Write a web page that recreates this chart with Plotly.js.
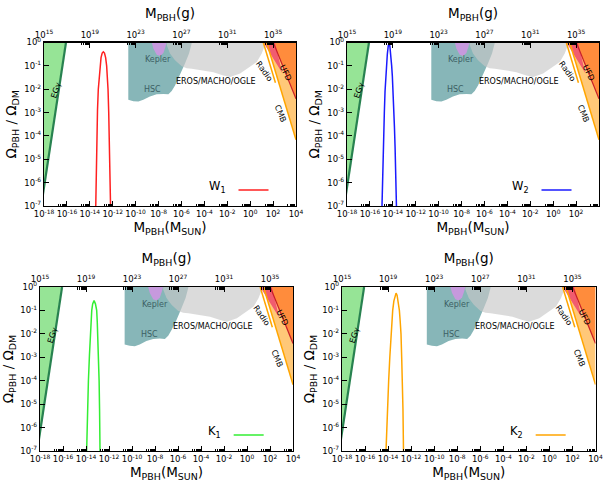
<!DOCTYPE html>
<html>
<head>
<meta charset="utf-8">
<script src="https://cdn.plot.ly/plotly-3.0.1.min.js"></script>
<style>html,body{margin:0;padding:0;background:#fff}</style>
</head>
<body>
<div id="chart" style="width:606px;height:483px"></div>
<script>
// ---------------- data ----------------
// curves: PBH mass [M_sun] and Omega_PBH/Omega_DM
const w1Mass = [3.16e-14,3.55e-14,3.98e-14,4.68e-14,5.50e-14,6.61e-14,7.76e-14,9.55e-14,1.20e-13,1.51e-13,1.91e-13,2.40e-13,2.95e-13,3.47e-13,3.89e-13,4.47e-13,5.01e-13,5.75e-13,6.76e-13];
const w1Omega = [3.16e-8,3.16e-6,1e-4,1.26e-3,0.01,0.0398,0.1,0.224,0.355,0.398,0.355,0.224,0.1,0.0355,0.01,1e-3,1e-4,3.16e-6,3.16e-8];

const w2Mass = [1.07e-15,1.26e-15,1.58e-15,1.82e-15,2.09e-15,2.40e-15,2.75e-15,3.31e-15,3.98e-15,4.68e-15,5.50e-15,6.61e-15,7.94e-15,9.12e-15,1.05e-14,1.20e-14,1.38e-14,1.58e-14,1.86e-14,2.19e-14];
const w2Omega = [3.16e-8,2.51e-6,1e-4,1e-3,7.94e-3,0.0316,0.1,0.316,0.708,0.933,0.708,0.316,0.1,0.0355,0.01,1.58e-3,2.51e-4,3.16e-5,1.58e-6,3.16e-8];

const k1Mass = [1.07e-14,1.20e-14,1.41e-14,1.62e-14,2.00e-14,2.40e-14,2.82e-14,3.16e-14,3.80e-14,5.01e-14,6.61e-14,8.51e-14,9.55e-14,1.05e-13,1.20e-13,1.38e-13,1.51e-13,1.70e-13];
const k1Omega = [3.16e-8,1e-6,1.26e-5,1e-4,1.26e-3,0.01,0.0398,0.1,0.191,0.263,0.191,0.1,0.0316,0.01,1e-3,1e-4,6.31e-6,3.16e-8];

const k2Mass = [6.03e-15,7.59e-15,9.12e-15,1.12e-14,1.41e-14,1.78e-14,2.19e-14,2.51e-14,3.16e-14,3.98e-14,4.90e-14,6.03e-14,7.59e-14,9.55e-14,1.12e-13,1.32e-13,1.51e-13,1.74e-13,1.95e-13,2.24e-13];
const k2Omega = [3.16e-8,1e-6,1e-5,1e-4,1e-3,0.01,0.0398,0.1,0.251,0.447,0.55,0.447,0.251,0.1,0.0355,0.01,1e-3,1e-4,6.31e-6,3.16e-8];

// constraint regions (polygons) and boundary lines
const egLineMass = [6.3e-19,8.3e-17];
const egLineOmega = [1.4e-7,1.0];
const egFillMass = [1e-19,8.3e-17,6.3e-19,1e-19];
const egFillOmega = [1.5,1.5,1.4e-7,1.4e-7];

const hscMass = [2.29e-11,2.29e-11,6.31e-11,1.74e-10,4.68e-10,1.78e-9,6.92e-9,2.63e-8,7.24e-8,1.41e-7,2.75e-7,7.41e-7,2.04e-6,4.57e-6,7.76e-6,8.32e-6];
const hscOmega = [1.5,3.55e-3,3.09e-3,2.95e-3,3.55e-3,4.90e-3,6.03e-3,6.31e-3,6.03e-3,8.32e-3,0.0145,0.0389,0.126,0.339,0.912,1.5];

const keplerMass = [2.57e-9,2.57e-9,3.55e-9,6.92e-9,1.35e-8,2.63e-8,3.89e-8,5.01e-8,5.01e-8];
const keplerOmega = [1.5,1.0,0.55,0.302,0.263,0.355,0.631,1.0,1.5];

const erosMass = [5.13e-8,5.13e-8,1e-7,2.75e-7,1.05e-6,2.88e-6,7.94e-6,4.37e-5,6.17e-4,4.57e-3,0.0174,0.132,0.977,3.80,10.2,20.0,24.0,24.0];
const erosOmega = [1.5,0.776,0.339,0.174,0.0955,0.0794,0.0759,0.0646,0.0537,0.0389,0.0331,0.0468,0.0891,0.148,0.339,0.759,1.0,1.5];

const radioFillMass = [14,148,148,630,14];
const radioFillOmega = [1.5,1.5,1.0,0.05,1.0];
const radioLineMass = [14,160];
const radioLineOmega = [1.0,0.019];

const ufdLineMass = [105,1000,10000];
const ufdLineOmega = [1.0,0.064,0.0039];
const ufdFillMass = [105,1000,10000,10000,105];
const ufdFillOmega = [1.0,0.064,0.0039,1.5,1.5];

const cmbLineMass = [27.5,300,2000,10000];
const cmbLineOmega = [1.0,0.02,9.3e-4,6.8e-5];
const cmbFillMass = [27.5,300,2000,10000,10000,27.5];
const cmbFillOmega = [1.0,0.02,9.3e-4,6.8e-5,1.5,1.5];

// ticks
const massTicks = [1e-18,1e-16,1e-14,1e-12,1e-10,1e-8,1e-6,1e-4,1e-2,1,1e2,1e4];
const massTickText = ['10<sup>-18</sup>','10<sup>-16</sup>','10<sup>-14</sup>','10<sup>-12</sup>','10<sup>-10</sup>','10<sup>-8</sup>','10<sup>-6</sup>','10<sup>-4</sup>','10<sup>-2</sup>','10<sup>0</sup>','10<sup>2</sup>','10<sup>4</sup>'];
const gramTicks = [1e15,1e19,1e23,1e27,1e31,1e35];
const gramTickText = ['10<sup>15</sup>','10<sup>19</sup>','10<sup>23</sup>','10<sup>27</sup>','10<sup>31</sup>','10<sup>35</sup>'];
const omegaTicks = [1e-7,1e-6,1e-5,1e-4,1e-3,1e-2,1e-1,1];
const omegaTickText = ['10<sup>-7</sup>','10<sup>-6</sup>','10<sup>-5</sup>','10<sup>-4</sup>','10<sup>-3</sup>','10<sup>-2</sup>','10<sup>-1</sup>','10<sup>0</sup>'];

const curveNames = ['W<sub>1</sub>','W<sub>2</sub>','K<sub>1</sub>','K<sub>2</sub>'];
const curveMass = [w1Mass,w2Mass,k1Mass,k2Mass];
const curveOmega = [w1Omega,w2Omega,k1Omega,k2Omega];
const curveColors = ['#ff2020','#1a1aff','#33ee33','#ffa500'];

// ---------------- layout helpers ----------------
const W = 606, H = 483;
const FONT = 'DejaVu Sans, sans-serif';
// plot frames in pixels [left, right, top, bottom]
const frames = [[44,296,42.5,206],[347,599,42.5,206],[40,293,287,451],[342,595.5,287,451]];

// minor tick positions (decade preceding each labelled tick)
const massMinor = [];
for (let e = -17; e <= 3; e += 2) for (let m = 2; m <= 9; m++) massMinor.push(m * Math.pow(10, e));
const gramMinor = [];
for (let e = 14; e <= 34; e += 4) for (let m = 2; m <= 9; m++) gramMinor.push(m * Math.pow(10, e));

const traces = [];
const layout = {
  width: W, height: H, margin: {l:0,r:0,t:0,b:0},
  paper_bgcolor: '#fff', plot_bgcolor: 'rgba(0,0,0,0)',
  font: {family: FONT, size: 8, color: '#000'},
  showlegend: true, annotations: []
};

function sfx(n) { return n === 1 ? '' : String(n); }

frames.forEach((f, i) => {
  const xb = 'x' + sfx(2*i+1), xt = 'x' + sfx(2*i+2), y = 'y' + sfx(i+1);
  const xbKey = 'xaxis' + sfx(2*i+1), xtKey = 'xaxis' + sfx(2*i+2), yKey = 'yaxis' + sfx(i+1);
  const legKey = 'legend' + sfx(i+1);
  const common = {xaxis: xb, yaxis: y, hoverinfo: 'skip', showlegend: false};

  const poly = (xs, ys, color) => traces.push(Object.assign({type:'scatter', mode:'lines', x: xs, y: ys, fill:'toself', fillcolor: color, line:{width:0}}, common));
  const line = (xs, ys, color, w) => traces.push(Object.assign({type:'scatter', mode:'lines', x: xs, y: ys, line:{color: color, width: w}}, common));

  poly(egFillMass, egFillOmega, 'rgb(150,228,150)');
  line(egLineMass, egLineOmega, 'rgb(40,130,80)', 2.2);
  poly(hscMass, hscOmega, 'rgba(95,158,160,0.75)');
  poly(keplerMass, keplerOmega, 'rgba(205,150,225,0.9)');
  poly(erosMass, erosOmega, 'rgba(200,200,200,0.65)');
  poly(cmbFillMass, cmbFillOmega, 'rgb(255,200,120)');
  poly(ufdFillMass, ufdFillOmega, 'rgb(255,140,60)');
  poly(radioFillMass, radioFillOmega, 'rgba(240,80,110,0.9)');
  line(ufdLineMass, ufdLineOmega, 'rgb(200,30,40)', 1.2);
  line(cmbLineMass, cmbLineOmega, 'rgb(255,165,0)', 1.5);
  line(radioLineMass, radioLineOmega, 'rgb(255,165,0)', 1.5);

  traces.push({type:'scatter', mode:'lines', x: curveMass[i], y: curveOmega[i], xaxis: xb, yaxis: y,
    name: ' ', legend: 'legend' + sfx(i+1), line:{color: curveColors[i], width: 1.5}, hoverinfo:'skip'});
  // empty trace so the top (grams) axis is rendered
  traces.push({type:'scatter', mode:'lines', x: [], y: [], xaxis: xt, yaxis: y, showlegend:false, hoverinfo:'skip'});

  const xd = [f[0]/W, f[1]/W], yd = [1 - f[3]/H, 1 - f[2]/H];
  const tickCommon = {ticks:'inside', ticklen:5, tickwidth:1, tickcolor:'#000', showgrid:false, zeroline:false,
    showline:true, linecolor:'#000', linewidth:1.2, tickfont:{family:FONT, size:8.5, color:'#000'}};
  layout[xbKey] = Object.assign({}, tickCommon, {
    type:'log', domain: xd, anchor: y, range:[-18, 4],
    tickmode:'array', tickvals: massTicks, ticktext: massTickText,
    minor:{tickmode:'array', tickvals: massMinor, ticks:'inside', ticklen:2.5, tickcolor:'#000', showgrid:false},
    title:{text:'M<sub>PBH</sub>(M<sub>SUN</sub>)', font:{family:FONT, size:13.5, color:'#000'}, standoff:4}
  });
  layout[xtKey] = Object.assign({}, tickCommon, {
    type:'log', domain: xd, anchor: y, overlaying: xb, side:'top', range:[15, 37],
    tickmode:'array', tickvals: gramTicks, ticktext: gramTickText,
    minor:{tickmode:'array', tickvals: gramMinor, ticks:'inside', ticklen:2.5, tickcolor:'#000', showgrid:false},
    title:{text:'M<sub>PBH</sub>(g)', font:{family:FONT, size:13.5, color:'#000'}, standoff:6}
  });
  layout[yKey] = Object.assign({}, tickCommon, {
    type:'log', domain: yd, anchor: xb, range:[-7, 0], mirror:true,
    tickmode:'array', tickvals: omegaTicks, ticktext: omegaTickText,
    title:{text:'Ω<sub>PBH</sub> / Ω<sub>DM</sub>', font:{family:FONT, size:13.5, color:'#000'}, standoff:4}
  });
  layout[legKey] = {
    x: (f[0] + 238)/W, y: 1 - (f[3] - 16)/H, xanchor:'right', yanchor:'middle',
    bgcolor:'rgba(0,0,0,0)', borderwidth:0,
    title:{text: curveNames[i], side:'left', font:{family:FONT, size:11.5, color:'#000'}},
    font:{family:FONT, size:11, color:'#000'}, itemwidth:30, tracegroupgap:0
  };

  const ann = (x, yv, text, angle, color) => layout.annotations.push({
    xref: xb, yref: y, x: x, y: yv, text: text, textangle: angle, showarrow:false,
    font:{family:FONT, size:8, color: color || '#000'}
  });
  ann(-16.95, -2.05, 'EGγ', -72);
  ann(-8.02, -0.73, 'Kepler', 0, 'rgb(60,95,100)');
  ann(-8.51, -2.02, 'HSC', 0, 'rgb(60,95,100)');
  ann(-2.98, -1.69, 'EROS/MACHO/OGLE', 0);
  ann(1.24, -1.23, 'Radio', 55);
  ann(3.05, -1.30, 'UFD', 63);
  ann(2.61, -3.05, 'CMB', 67);
});

Plotly.newPlot('chart', traces, layout, {displayModeBar:false, staticPlot:true});
</script>
</body>
</html>
